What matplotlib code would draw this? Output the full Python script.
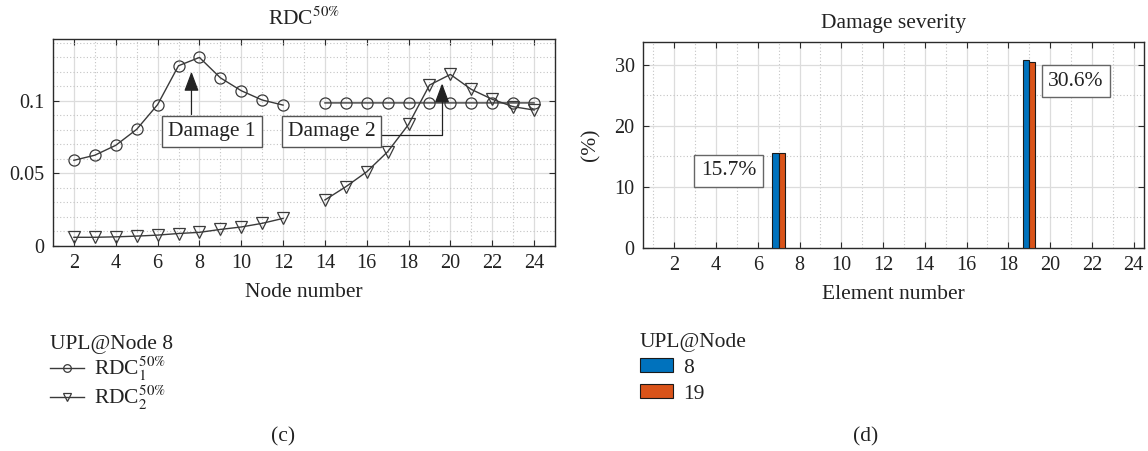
import numpy as np
import matplotlib
matplotlib.use("Agg")
import matplotlib.pyplot as plt
from matplotlib.ticker import MultipleLocator, FuncFormatter
from matplotlib.lines import Line2D
from matplotlib.patches import Patch

plt.rcParams["font.family"] = ["Liberation Serif", "DejaVu Serif"]
plt.rcParams["mathtext.fontset"] = "stix"

# ---- (c) RDC along the nodes, unit load at node 8 ----
nodes = list(range(2, 25))
rdc1 = [0.059, 0.0625, 0.0693, 0.0803, 0.0973, 0.1241, 0.1298, 0.1158, 0.1069,
        0.1005, 0.0970, np.nan, 0.0985, 0.0985, 0.0985, 0.0985, 0.0985, 0.0985,
        0.0985, 0.0985, 0.0985, 0.0985, 0.0985]
rdc2 = [0.0060, 0.0060, 0.0063, 0.0068, 0.0075, 0.0086, 0.0094, 0.0114, 0.0131,
        0.0156, 0.0190, np.nan, 0.0317, 0.0408, 0.0511, 0.0649, 0.0837, 0.1108,
        0.1181, 0.1078, 0.1010, 0.0959, 0.0936]
node_ticks = list(range(2, 25, 2))
rdc_ticks = [0, 0.05, 0.1]

# ---- (d) Damage severity per element ----
elements = [7, 19]
severity_node8 = [15.5, 30.75]
severity_node19 = [15.6, 30.5]
severity_labels = ["15.7%", "30.6%"]
element_ticks = list(range(2, 25, 2))
severity_ticks = [0, 10, 20, 30]

W, H = 1148, 451
fig = plt.figure(figsize=(W / 100, H / 100), dpi=100)

def frac_box(x0, y0, x1, y1):
    return [x0 / W, 1 - y1 / H, (x1 - x0) / W, (y1 - y0) / H]

ax1 = fig.add_axes(frac_box(53, 39, 555, 246))
ax2 = fig.add_axes(frac_box(643, 42, 1144, 248))

line_col = "#3a3a3a"
text_col = "#222222"
grid_major = "#dcdcdc"
grid_minor = "#c4c4c4"
tick_fs = 14.5
label_fs = 15.5

def style_axes(ax):
    for s in ax.spines.values():
        s.set_color("#2b2b2b")
        s.set_linewidth(1.0)
    ax.tick_params(which="major", direction="in", length=4, width=0.8,
                   top=True, right=True, colors="#2b2b2b",
                   labelsize=tick_fs, labelcolor=text_col, pad=6)
    ax.tick_params(which="minor", length=0)
    ax.grid(which="major", color=grid_major, linewidth=0.9, linestyle="-")
    ax.grid(which="minor", color=grid_minor, linewidth=0.8, linestyle=(0, (1, 2)))
    ax.set_axisbelow(True)

# (c)
ax1.plot(nodes, rdc1, color=line_col, lw=1.0, marker="o", ms=8,
         mfc="none", mec=line_col, mew=0.9)
ax1.plot(nodes, rdc2, color=line_col, lw=1.0, marker="v", ms=8,
         mfc="none", mec=line_col, mew=0.9)
ax1.set_xlim(1, 25)
ax1.set_ylim(0, 0.1425)
ax1.set_xticks(node_ticks)
ax1.xaxis.set_minor_locator(MultipleLocator(1))
ax1.set_yticks(rdc_ticks)
ax1.yaxis.set_major_formatter(FuncFormatter(lambda v, p: f"{v:g}"))
ax1.yaxis.set_minor_locator(MultipleLocator(0.01))
style_axes(ax1)
ax1.set_title(r"RDC$^{50\%}$", fontsize=label_fs, pad=10, color=text_col)
ax1.set_xlabel("Node number", fontsize=label_fs, labelpad=7, color=text_col)

arrow_kw = dict(arrowstyle="-|>,head_length=0.8,head_width=0.3",
                color=text_col, lw=0.9, mutation_scale=15, shrinkA=0, shrinkB=0)
box_kw = dict(boxstyle="square,pad=0.28", fc="white", ec="#555555", lw=1.0)

# damage call-outs: boxed labels with arrows to the peaks
ax1.text(8.61, 0.0791, "Damage 1", ha="center", va="center",
         fontsize=label_fs, bbox=box_kw, color=text_col, zorder=5)
ax1.annotate("", xy=(7.62, 0.120), xytext=(7.62, 0.0905),
             arrowprops=arrow_kw, zorder=4)
ax1.text(14.31, 0.0791, "Damage 2", ha="center", va="center",
         fontsize=label_fs, bbox=box_kw, color=text_col, zorder=5)
ax1.annotate("", xy=(19.6, 0.112), xytext=(16.6, 0.0764),
             arrowprops=dict(connectionstyle="angle,angleA=0,angleB=90,rad=0",
                             **arrow_kw), zorder=4)

# (d)
bw = 0.3
c_blue, c_orange = "#0072BD", "#D95319"
ax2.bar(np.array(elements) - bw / 2, severity_node8, width=bw, color=c_blue,
        edgecolor="#1a1a1a", lw=0.8, zorder=3)
ax2.bar(np.array(elements) + bw / 2, severity_node19, width=bw, color=c_orange,
        edgecolor="#1a1a1a", lw=0.8, zorder=3)
ax2.set_xlim(0.5, 24.5)
ax2.set_ylim(0, 33.7)
ax2.set_xticks(element_ticks)
ax2.xaxis.set_minor_locator(MultipleLocator(1))
ax2.set_yticks(severity_ticks)
ax2.yaxis.set_minor_locator(MultipleLocator(5))
style_axes(ax2)
ax2.set_title("Damage severity", fontsize=label_fs, pad=10, color=text_col)
ax2.set_xlabel("Element number", fontsize=label_fs, labelpad=7, color=text_col)
ax2.set_ylabel("(%)", fontsize=label_fs, labelpad=10, color=text_col)

sev_box = dict(boxstyle="square,pad=0.3", fc="white", ec="#666666", lw=1.0)
ax2.text(4.6, 12.6, severity_labels[0], ha="center", va="center",
         fontsize=label_fs, bbox=sev_box, zorder=4, color=text_col)
ax2.text(21.24, 27.3, severity_labels[1], ha="center", va="center",
         fontsize=label_fs, bbox=sev_box, zorder=4, color=text_col)

# legends
h1 = [Line2D([], [], color=line_col, lw=1.0, marker="o", ms=5.5, mfc="none",
             mec=line_col, mew=0.9),
      Line2D([], [], color=line_col, lw=1.0, marker="v", ms=5.5, mfc="none",
             mec=line_col, mew=0.9)]
leg1 = fig.legend(h1, [r"RDC$_1^{50\%}$", r"RDC$_2^{50\%}$"],
                  title="UPL@Node 8", loc="upper left",
                  bbox_to_anchor=(50 / W, 1 - 335 / H), frameon=False,
                  fontsize=label_fs, title_fontsize=label_fs, alignment="left",
                  handlelength=1.6, handletextpad=0.45, labelspacing=0.0,
                  borderaxespad=0, borderpad=0)
for t in leg1.get_texts() + [leg1.get_title()]:
    t.set_color(text_col)

h2 = [Patch(facecolor=c_blue, edgecolor="#1a1a1a", lw=0.8),
      Patch(facecolor=c_orange, edgecolor="#1a1a1a", lw=0.8)]
leg2 = fig.legend(h2, ["8", "19"], title="UPL@Node", loc="upper left",
                  bbox_to_anchor=(640 / W, 1 - 333 / H), frameon=False,
                  fontsize=label_fs, title_fontsize=label_fs, alignment="left",
                  handlelength=1.55, handleheight=0.6, handletextpad=0.45,
                  labelspacing=0.3, borderaxespad=0, borderpad=0)
for t in leg2.get_texts() + [leg2.get_title()]:
    t.set_color(text_col)

fig.text(283 / W, 1 - 437 / H, "(c)", ha="center", va="center", fontsize=label_fs,
         color=text_col)
fig.text(866 / W, 1 - 437 / H, "(d)", ha="center", va="center", fontsize=label_fs,
         color=text_col)

fig.savefig("out.png", dpi=100)
